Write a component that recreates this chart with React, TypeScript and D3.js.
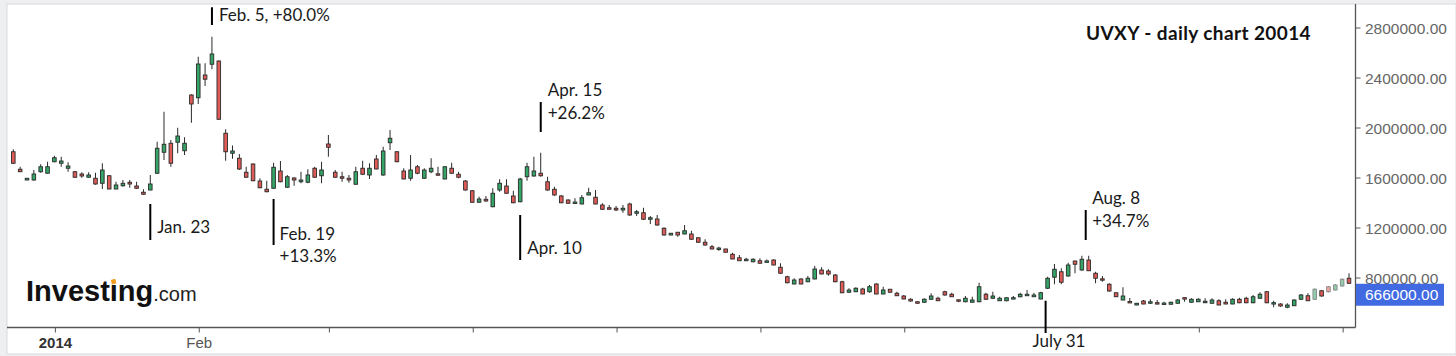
import React from "react";
import * as d3 from "d3";

// Values in thousands of the y-axis unit
const openK = [1810,1670,1584,1584,1650,1638,1730,1718,1678,1650,1632,1606,1598,1558,1618,1512,1538,1566,1536,1486,1504,1638,1806,1878,1886,1818,2264,2242,2424,2510,2536,1958,1798,1758,1646,1712,1576,1510,1518,1656,1526,1600,1570,1566,1678,1618,1872,1646,1610,1598,1550,1678,1624,1752,1624,1882,1810,1656,1598,1690,1598,1650,1632,1592,1678,1630,1576,1498,1406,1430,1370,1504,1536,1456,1410,1610,1616,1638,1570,1510,1456,1424,1398,1392,1464,1446,1384,1362,1358,1344,1392,1318,1322,1270,1272,1198,1144,1166,1152,1152,1122,1086,1050,1030,1032,990,962,938,930,938,926,944,886,810,752,792,770,792,864,856,824,770,686,690,712,690,752,672,710,678,656,630,610,606,630,638,690,670,624,610,606,610,670,638,618,618,632,650,658,650,632,718,806,850,816,936,864,944,838,792,750,682,624,610,584,616,598,602,590,590,598,642,606,610,602,598,618,606,592,630,638,602,638,690,592,592,566,578,630,658,630,698,730,704,736,798];
const highK = [1830,1690,1600,1664,1710,1730,1778,1770,1726,1654,1646,1646,1642,1718,1624,1570,1584,1584,1570,1510,1624,1890,2130,1904,2002,1926,2270,2570,2518,2730,2540,1990,1860,1792,1690,1716,1598,1578,1722,1736,1624,1606,1650,1670,1690,1730,1944,1664,1650,1624,1690,1738,1718,1784,1850,1984,1814,1678,1784,1704,1678,1758,1690,1696,1722,1650,1584,1504,1450,1456,1518,1590,1590,1498,1602,1722,1770,1802,1610,1530,1464,1430,1438,1464,1522,1504,1398,1384,1376,1384,1402,1344,1362,1296,1304,1206,1160,1168,1224,1178,1124,1110,1064,1050,1034,1002,984,962,958,958,948,950,918,818,798,798,816,896,886,870,832,778,718,726,722,744,758,730,712,690,664,638,612,638,678,650,698,682,626,656,650,762,682,690,650,646,656,682,704,682,690,810,912,878,922,938,978,978,850,816,758,684,726,640,600,624,630,624,610,610,632,644,638,638,638,638,630,630,638,642,650,664,686,696,618,598,598,630,672,678,718,704,736,752,798,838];
const lowK = [1712,1648,1582,1578,1642,1636,1726,1690,1650,1602,1602,1602,1546,1512,1510,1510,1530,1522,1512,1466,1502,1632,1744,1690,1798,1784,2042,2192,2336,2470,2064,1738,1754,1664,1602,1574,1518,1486,1512,1566,1522,1538,1558,1558,1602,1558,1770,1602,1570,1562,1546,1624,1592,1670,1618,1824,1726,1590,1578,1630,1592,1638,1618,1590,1632,1598,1498,1402,1402,1410,1366,1490,1472,1398,1406,1578,1610,1610,1498,1458,1398,1394,1396,1390,1462,1390,1344,1348,1336,1322,1298,1296,1264,1232,1218,1138,1142,1130,1150,1104,1084,1058,1030,1018,1004,950,936,936,926,916,924,902,832,758,750,750,766,790,830,818,766,678,682,688,670,682,670,670,684,656,630,610,596,602,624,616,658,648,606,606,604,606,624,632,616,614,630,646,656,648,630,712,750,750,810,838,858,856,758,770,690,648,622,600,582,590,592,590,588,588,594,610,602,608,600,594,582,590,590,598,598,598,632,598,566,570,558,576,624,616,624,650,684,700,730,752];
const closeK = [1718,1650,1598,1632,1690,1690,1762,1736,1696,1606,1616,1624,1552,1664,1512,1544,1558,1552,1518,1470,1552,1838,1870,1718,1936,1878,2192,2512,2390,2592,2070,1810,1816,1672,1606,1578,1522,1490,1686,1570,1610,1584,1584,1624,1606,1664,1846,1606,1598,1584,1650,1630,1678,1672,1816,1918,1730,1592,1664,1638,1664,1678,1624,1690,1638,1606,1504,1406,1432,1416,1478,1558,1478,1402,1592,1690,1656,1618,1504,1464,1402,1398,1406,1442,1482,1392,1350,1350,1344,1358,1304,1330,1270,1282,1224,1144,1158,1144,1178,1110,1086,1064,1032,1038,1006,952,938,950,950,918,936,904,838,762,784,752,798,872,832,832,770,682,704,718,672,730,672,704,686,658,632,616,598,630,656,618,664,650,616,638,624,730,630,656,638,642,642,670,670,664,682,798,870,766,904,910,950,858,798,784,696,650,656,602,598,592,610,592,598,606,624,632,630,630,614,624,584,592,630,602,602,650,670,602,602,576,584,624,664,618,710,656,690,744,790,758];

const UNIT = 1000;
const fadedIdx = [190, 192, 193, 194];

const yTickValues = [800000, 1200000, 1600000, 2000000, 2400000, 2800000];
const monthTickIdx = [6, 27, 46, 67, 88, 109, 130, 173, 194];
const monthTickLabels = ["2014", "Feb", "", "", "", "", "", "", ""];
const lastPrice = 666000;
const title = "UVXY - daily chart 20014";

// annotations: candle index, vertical marker value range, label lines, label baseline value
const annIdx = [29, 20, 38, 74, 77, 157, 151];
const annFrom = [2824000, 1104000, 1064000, 944000, 1968000, 1104000, 360000];
const annTo = [2966000, 1392000, 1432000, 1304000, 2208000, 1344000, 618000];
const annText = [
  ["Feb. 5, +80.0%"],
  ["Jan. 23"],
  ["Feb. 19", "+13.3%"],
  ["Apr. 10"],
  ["Apr. 15", "+26.2%"],
  ["Aug. 8", "+34.7%"],
  ["July 31"],
];
const annBaseline = [2860000, 1160000, 1108000, 992000, 2256000, 1392000, 248000];
const annDx = [7, 7, 6, 7, 7, 6.5, -13];
const annLineDx = [0, 0, 0, 0, 0, -3, -2];

const W = 1456;
const H = 356;

export default function App() {
  const n = openK.length;
  const x = d3.scaleLinear().domain([0, n - 1]).range([13.3, 1349]);
  const y = d3.scaleLinear().domain([800000, 2800000]).range([278, 28]);
  const axisX = 1355.5;
  const axisY = 327.5;
  const bw = 3.6;

  const green = "#35a467";
  const red = "#df5b57";
  const edge = "#2a2a2a";
  const annFont = "Lato, 'Open Sans', sans-serif";
  const axisFont = "'Liberation Sans', Arial, sans-serif";

  const candles = d3.range(n).map((i) => {
    const o = openK[i] * UNIT;
    const c = closeK[i] * UNIT;
    const h = highK[i] * UNIT;
    const l = lowK[i] * UNIT;
    const up = c >= o;
    const cx = x(i);
    const top = y(Math.max(o, c));
    const bot = y(Math.min(o, c));
    const bh = Math.max(1.4, bot - top);
    const faded = fadedIdx.includes(i);
    return (
      <g key={i} opacity={faded ? 0.55 : 1}>
        <line x1={cx} x2={cx} y1={y(h)} y2={y(l)} stroke={edge} strokeWidth={1} />
        <rect
          x={cx - bw / 2}
          y={top - (bh - (bot - top)) / 2}
          width={bw}
          height={bh}
          fill={up ? green : red}
          stroke={edge}
          strokeWidth={0.9}
        />
      </g>
    );
  });

  return (
    <svg
      width={W}
      height={H}
      style={{ position: "absolute", left: 0, top: 0, display: "block" }}
    >
      <rect x={0} y={0} width={W} height={H} fill="#eeeff1" />
      <rect x={7} y={4} width={W - 7} height={350} fill="#ffffff" stroke="#d9dadc" strokeWidth={1} />

      {/* axes */}
      <line x1={7} x2={axisX} y1={axisY} y2={axisY} stroke="#555" strokeWidth={1.3} />
      <line x1={axisX} x2={axisX} y1={4} y2={axisY} stroke="#555" strokeWidth={1.3} />
      {yTickValues.map((v) => (
        <g key={v}>
          <line x1={axisX} x2={axisX + 5} y1={y(v)} y2={y(v)} stroke="#555" strokeWidth={1} />
          <text
            x={1365}
            y={y(v)}
            dy="0.36em"
            fontFamily={axisFont}
            fontSize={15.5}
            fill="#666"
          >
            {d3.format(".2f")(v)}
          </text>
        </g>
      ))}
      {monthTickIdx.map((idx, k) => (
        <g key={idx}>
          <line x1={x(idx) + 1} x2={x(idx) + 1} y1={axisY} y2={axisY + 5} stroke="#555" strokeWidth={1} />
          {monthTickLabels[k] && (
            <text
              x={x(idx) + 1}
              y={348}
              textAnchor="middle"
              fontFamily={axisFont}
              fontSize={15}
              fontWeight={k === 0 ? "bold" : "normal"}
              fill={k === 0 ? "#333" : "#555"}
            >
              {monthTickLabels[k]}
            </text>
          )}
        </g>
      ))}

      {/* logo */}
      <text x={26} y={301} fontFamily={axisFont} fontWeight="bold" fontSize={29} fill="#111">
        Investıng
        <tspan fontWeight="normal" fontSize={20} fill="#222">.com</tspan>
      </text>
      <rect x={111.3} y={279.3} width={4.6} height={4.6} fill="#f29b1d" transform="rotate(-15 113.6 281.6)" />

      {/* candles */}
      {candles}

      {/* last price label */}
      <rect x={axisX + 0.5} y={y(lastPrice) - 11} width={88} height={22} fill="#4169e1" />
      <text x={1365} y={y(lastPrice)} dy="0.36em" fontFamily={axisFont} fontSize={15.5} fill="#fff">
        {d3.format(".2f")(lastPrice)}
      </text>

      {/* title */}
      <text x={1086} y={39.5} fontFamily={annFont} fontWeight="bold" fontSize={19} letterSpacing={0.4} fill="#111">
        {title}
      </text>

      {/* annotations */}
      {annIdx.map((idx, k) => {
        const lx = x(idx) + annLineDx[k];
        return (
          <g key={k}>
            <line x1={lx} x2={lx} y1={y(annFrom[k])} y2={y(annTo[k])} stroke="#000" strokeWidth={2} />
            {annText[k].map((t, j) => (
              <text
                key={j}
                x={lx + annDx[k]}
                y={y(annBaseline[k]) + j * 22.5}
                fontFamily={annFont}
                fontSize={17}
                fill="#1a1a1a"
              >
                {t}
              </text>
            ))}
          </g>
        );
      })}
    </svg>
  );
}
